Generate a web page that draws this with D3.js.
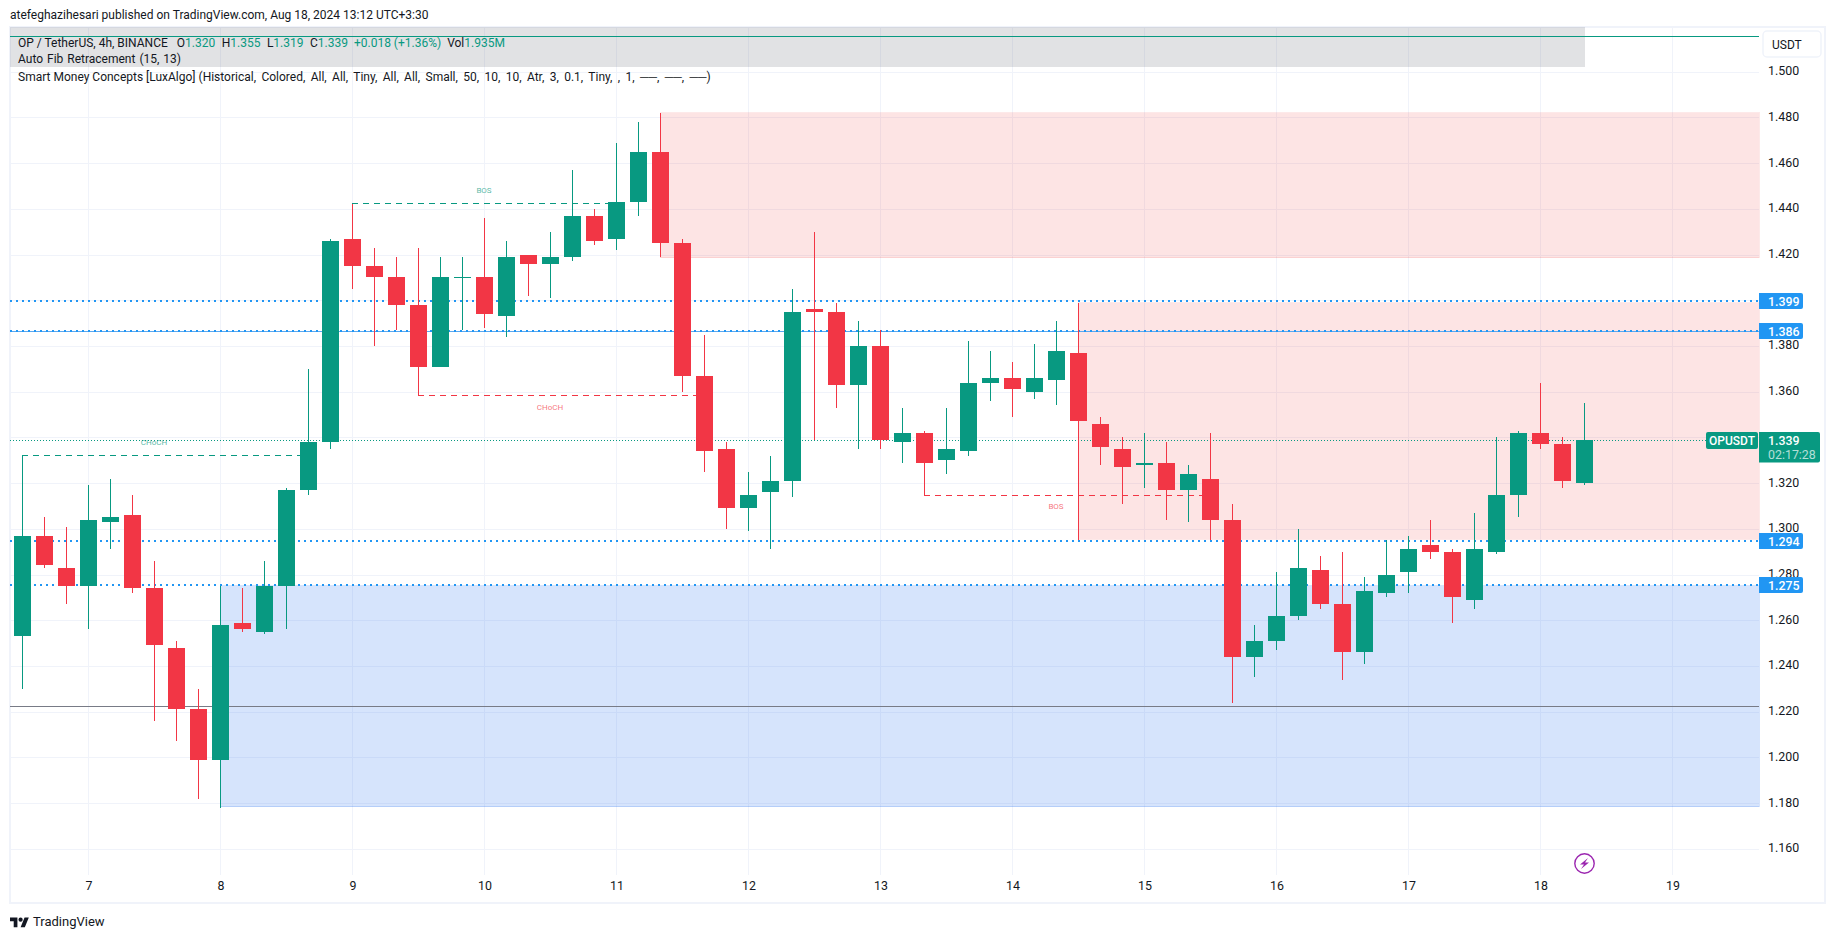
<!DOCTYPE html>
<html>
<head>
<meta charset="utf-8">
<script src="https://cdn.jsdelivr.net/npm/d3@7"></script>
<style>
  html, body { margin: 0; padding: 0; background: #fff; }
  svg { display: block; }
  text { font-family: Roboto, sans-serif; }
</style>
</head>
<body>
<script>
const width = 1835, height = 939;

// OHLC, one row per 4h bar, starting at day 6.5
const opens = [1.253,1.297,1.283,1.275,1.303,1.306,1.274,1.248,1.221,1.199,1.259,1.255,1.275,1.317,1.338,1.427,1.415,1.410,
  1.398,1.371,1.410,1.410,1.393,1.420,1.416,1.419,1.437,1.427,1.443,1.465,1.425,1.367,1.335,1.309,1.316,1.321,
  1.396,1.395,1.363,1.380,1.338,1.342,1.330,1.334,1.364,1.366,1.360,1.365,1.377,1.346,1.335,1.328,1.329,1.317,
  1.322,1.304,1.244,1.251,1.262,1.282,1.267,1.246,1.272,1.281,1.293,1.290,1.269,1.290,1.315,1.342,1.337,1.320];
const highs = [1.332,1.305,1.301,1.319,1.322,1.315,1.286,1.251,1.230,1.275,1.274,1.286,1.318,1.370,1.427,1.442,1.423,1.419,
  1.423,1.419,1.419,1.436,1.426,1.420,1.430,1.457,1.440,1.469,1.478,1.482,1.427,1.385,1.338,1.325,1.332,1.405,
  1.430,1.399,1.391,1.387,1.353,1.343,1.353,1.382,1.378,1.373,1.381,1.391,1.399,1.349,1.340,1.342,1.338,1.328,
  1.342,1.311,1.258,1.281,1.300,1.288,1.290,1.279,1.295,1.297,1.304,1.291,1.307,1.340,1.343,1.364,1.340,1.355];
const lows = [1.230,1.283,1.267,1.256,1.291,1.272,1.216,1.207,1.182,1.178,1.255,1.254,1.256,1.315,1.335,1.405,1.380,1.387,
  1.358,1.371,1.387,1.388,1.384,1.402,1.401,1.417,1.424,1.422,1.437,1.419,1.360,1.325,1.300,1.299,1.291,1.314,
  1.339,1.353,1.335,1.335,1.329,1.315,1.324,1.332,1.356,1.349,1.357,1.354,1.295,1.328,1.311,1.318,1.304,1.303,
  1.295,1.224,1.235,1.247,1.260,1.265,1.234,1.241,1.270,1.272,1.287,1.259,1.265,1.289,1.305,1.335,1.318,1.319];
const closes = [1.297,1.284,1.275,1.304,1.305,1.274,1.249,1.221,1.199,1.258,1.256,1.275,1.317,1.338,1.426,1.415,1.410,1.398,
  1.371,1.410,1.410,1.394,1.419,1.416,1.419,1.437,1.426,1.443,1.465,1.425,1.367,1.334,1.309,1.315,1.321,1.395,
  1.395,1.363,1.380,1.339,1.342,1.329,1.335,1.364,1.366,1.361,1.366,1.378,1.347,1.336,1.327,1.329,1.317,1.324,
  1.304,1.244,1.251,1.262,1.283,1.267,1.246,1.273,1.280,1.291,1.290,1.270,1.291,1.315,1.342,1.337,1.321,1.339];

const firstDay = 6.5, barsPerDay = 6;
const dayTicks = [7,8,9,10,11,12,13,14,15,16,17,18,19];
const priceTicks = [1.5,1.48,1.46,1.44,1.42,1.4,1.38,1.36,1.34,1.32,1.3,1.28,1.26,1.24,1.22,1.2,1.18,1.16];

// order blocks: first bar, top price, bottom price
const zoneBars = [29, 48, 9];
const zoneTops = [1.482, 1.3990, 1.2752];
const zoneBottoms = [1.4186, 1.2955, 1.1785];
const zoneKinds = ["supply", "supply", "demand"];

// structure breaks
const breakFrom = [0, 15, 18, 41];
const breakTo = [13, 27, 31, 54];
const breakPrices = [1.3322, 1.4424, 1.3585, 1.3150];
const breakNames = ["CHoCH", "BOS", "CHoCH", "BOS"];
const breakDirs = ["up", "up", "down", "down"];

// fib levels and the text of their labels
const fibLevels = [1.3997, 1.3866, 1.2947, 1.2756];
const fibNames = ["1.399", "1.386", "1.294", "1.275"];
const fibSolid = 1.3864;
const grayLevel = 1.2225;
const topLevel = 1.5157;
const lastPrice = 1.339;

const legendParts = [["O", "1.320"], ["H", "1.355"], ["L", "1.319"], ["C", "1.339"]];

const up = "#089981", down = "#f23645", fibBlue = "#2196f3", ink = "#131722", grid = "#f0f3fa";

const bars = opens.map((o, i) => ({i: i, o: o, h: highs[i], l: lows[i], c: closes[i]}));

const paneLeft = 10, paneRight = 1759, paneTop = 27, paneBottom = 875;

const x = d3.scaleLinear().domain([7, 19]).range([88, 1672]);
const y = d3.scaleLinear().domain([1.5, 1.16]).range([71.7, 848.8]);
const barX = i => Math.round(x(firstDay + i / barsPerDay));

const svg = d3.select("body").append("svg")
    .attr("width", width)
    .attr("height", height)
    .attr("viewBox", [0, 0, width, height]);

svg.append("text")
    .attr("x", 10).attr("y", 19)
    .attr("font-size", 12).attr("fill", ink)
    .text("atefeghazihesari published on TradingView.com, Aug 18, 2024 13:12 UTC+3:30");

// frame
svg.append("path")
    .attr("d", `M${paneLeft},903V27H1825V903H${paneLeft}Z`)
    .attr("fill", "none").attr("stroke", grid).attr("stroke-width", 2);

// grid
const gridG = svg.append("g").attr("shape-rendering", "crispEdges").attr("stroke", grid);
gridG.selectAll("line.h").data(priceTicks).join("line")
    .attr("class", "h")
    .attr("x1", paneLeft).attr("x2", paneRight)
    .attr("y1", d => Math.round(y(d)) + 0.5).attr("y2", d => Math.round(y(d)) + 0.5);
gridG.selectAll("line.v").data(dayTicks).join("line")
    .attr("class", "v")
    .attr("x1", d => x(d) + 0.5).attr("x2", d => x(d) + 0.5)
    .attr("y1", paneTop).attr("y2", paneBottom);

// legend backdrop
svg.append("rect")
    .attr("x", paneLeft).attr("y", paneTop)
    .attr("width", 1585 - paneLeft).attr("height", 40)
    .attr("fill", "#787b86").attr("fill-opacity", 0.22);

// order blocks
const zoneColor = d => zoneKinds[d] == "supply" ? "#f24b4b" : "#3278f0";
const zoneG = svg.append("g").attr("shape-rendering", "crispEdges");
zoneG.selectAll("rect").data(d3.range(zoneBars.length)).join("rect")
    .attr("x", d => barX(zoneBars[d]))
    .attr("width", d => paneRight - barX(zoneBars[d]))
    .attr("y", d => y(zoneTops[d]))
    .attr("height", d => y(zoneBottoms[d]) - y(zoneTops[d]))
    .attr("fill", zoneColor)
    .attr("fill-opacity", d => zoneKinds[d] == "supply" ? 0.15 : 0.2)
    .attr("stroke", zoneColor)
    .attr("stroke-opacity", d => zoneKinds[d] == "supply" ? 0.12 : 0.2);

// horizontal levels
function level(price, color, dash, sw) {
  const yy = Math.round(y(price));
  svg.append("line")
      .attr("x1", paneLeft).attr("x2", paneRight)
      .attr("y1", yy + (sw == 2 ? 0 : 0.5)).attr("y2", yy + (sw == 2 ? 0 : 0.5))
      .attr("stroke", color).attr("stroke-width", sw)
      .attr("stroke-dasharray", dash)
      .attr("shape-rendering", "crispEdges");
}
level(topLevel, up, null, 1);
level(grayLevel, "#787b86", null, 1);
level(fibSolid, "#5ba8f0", null, 1);
fibLevels.forEach(d => level(d, fibBlue, "2,4", 2));
level(lastPrice, up, "1,2", 1);

// structure breaks
const breakColor = d => breakDirs[d] == "up" ? up : down;
const breakG = svg.append("g");
breakG.selectAll("line").data(d3.range(breakFrom.length)).join("line")
    .attr("x1", d => barX(breakFrom[d]))
    .attr("x2", d => barX(breakTo[d]))
    .attr("y1", d => Math.round(y(breakPrices[d])) + 0.5)
    .attr("y2", d => Math.round(y(breakPrices[d])) + 0.5)
    .attr("stroke", breakColor)
    .attr("stroke-dasharray", "6,5")
    .attr("shape-rendering", "crispEdges");
breakG.selectAll("text").data(d3.range(breakFrom.length)).join("text")
    .attr("x", d => barX(Math.floor((breakFrom[d] + breakTo[d]) / 2)))
    .attr("y", d => y(breakPrices[d]) + (breakDirs[d] == "up" ? -10 : 14.5))
    .attr("text-anchor", "middle")
    .attr("font-size", 8)
    .attr("fill", breakColor)
    .attr("fill-opacity", 0.7)
    .text(d => breakNames[d]);

// candles
const candle = svg.append("g")
    .attr("shape-rendering", "crispEdges")
  .selectAll("g")
  .data(bars)
  .join("g")
    .attr("fill", d => d.c >= d.o ? up : down);
candle.append("rect")
    .attr("x", d => barX(d.i))
    .attr("width", 1)
    .attr("y", d => Math.round(y(d.h)))
    .attr("height", d => Math.round(y(d.l)) - Math.round(y(d.h)));
candle.append("rect")
    .attr("x", d => barX(d.i) - 8)
    .attr("width", 17)
    .attr("y", d => Math.round(y(Math.max(d.o, d.c))))
    .attr("height", d => Math.max(1, Math.round(y(Math.min(d.o, d.c))) - Math.round(y(Math.max(d.o, d.c)))));

// axes
const yAxis = svg.append("g")
    .attr("transform", "translate(1768,-1)")
    .call(d3.axisRight(y).tickValues(priceTicks).tickFormat(d3.format(".3f")).tickSize(0).tickPadding(0));
yAxis.select(".domain").remove();
yAxis.selectAll("text").attr("font-size", 12.4).attr("fill", ink).attr("font-family", "Roboto, sans-serif");

const xAxis = svg.append("g")
    .attr("transform", "translate(0.5,881)")
    .call(d3.axisBottom(x).tickValues(dayTicks).tickFormat(d3.format("d")).tickSize(0).tickPadding(0));
xAxis.select(".domain").remove();
xAxis.selectAll("text").attr("font-size", 12.4).attr("fill", ink).attr("font-family", "Roboto, sans-serif");

// currency button
svg.append("rect")
    .attr("x", 1763).attr("y", 31).attr("width", 58).attr("height", 26).attr("rx", 4)
    .attr("fill", "#fff").attr("stroke", grid).attr("stroke-width", 1.5);
svg.append("text")
    .attr("x", 1772).attr("y", 49)
    .attr("font-size", 12).attr("fill", ink)
    .text("USDT");

// fib labels
const fibG = svg.selectAll("g.fib").data(fibLevels).join("g")
    .attr("class", "fib")
    .attr("transform", d => `translate(1759,${Math.round(y(d))})`);
fibG.append("path")
    .attr("d", "M0,-8H42a2,2 0 0 1 2,2V6a2,2 0 0 1 -2,2H0Z")
    .attr("fill", fibBlue);
fibG.append("text")
    .attr("x", 9).attr("y", 4.5)
    .attr("font-size", 12.4).attr("font-weight", 500).attr("fill", "#fff")
    .text((d, i) => fibNames[i]);

// last price labels
const py = Math.round(y(lastPrice));
svg.append("path")
    .attr("d", `M1759,${py - 8}H1818a2,2 0 0 1 2,2V${py + 20.5}a2,2 0 0 1 -2,2H1759Z`)
    .attr("fill", up);
svg.append("text")
    .attr("x", 1768).attr("y", py + 4.5)
    .attr("font-size", 12.4).attr("font-weight", 500).attr("fill", "#fff")
    .text(d3.format(".3f")(lastPrice));
svg.append("text")
    .attr("x", 1768).attr("y", py + 18.5)
    .attr("font-size", 12.4).attr("fill", "#fff").attr("fill-opacity", 0.7)
    .text("02:17:28");
svg.append("rect")
    .attr("x", 1706).attr("y", py - 8).attr("width", 52).attr("height", 17).attr("rx", 2)
    .attr("fill", up);
svg.append("text")
    .attr("x", 1732).attr("y", py + 4.5)
    .attr("text-anchor", "middle")
    .attr("font-size", 12).attr("font-weight", 500).attr("fill", "#fff")
    .text("OPUSDT");

// legend
const row1 = svg.append("text")
    .attr("x", 18).attr("y", 47)
    .attr("font-size", 12).attr("fill", ink)
    .text("OP / TetherUS, 4h, BINANCE");
legendParts.forEach((d, i) => {
  row1.append("tspan").attr("dx", i == 0 ? 9 : 6.5).text(d[0]);
  row1.append("tspan").attr("fill", up).text(d[1]);
});
row1.append("tspan").attr("dx", 6).attr("fill", up).text("+0.018 (+1.36%)");
row1.append("tspan").attr("dx", 6).text("Vol");
row1.append("tspan").attr("fill", up).text("1.935M");
svg.append("text")
    .attr("x", 18).attr("y", 63)
    .attr("font-size", 12).attr("word-spacing", 1).attr("fill", ink)
    .text("Auto Fib Retracement (15, 13)");
const row3 = svg.append("text")
    .attr("x", 18).attr("y", 81)
    .attr("font-size", 12).attr("fill", ink)
    .text("Smart Money Concepts [LuxAlgo] ");
row3.append("tspan")
    .attr("word-spacing", 2.4)
    .text("(Historical, Colored, All, All, Tiny, All, All, Small, 50, 10, 10, Atr, 3, 0.1, Tiny, , 1, ──, ──, ──)");

// replay icon
const bolt = svg.append("g").attr("transform", "translate(1584.5,863.5)");
bolt.append("circle").attr("r", 9.7).attr("fill", "#fff").attr("stroke", "#9c27b0").attr("stroke-width", 1.4);
bolt.append("path")
    .attr("d", "M3.5,-5.5L-4.5,1H-0.5L-3.5,5.5L4.5,-1H0.5Z")
    .attr("fill", "#9c27b0");

// footer logo
const logo = svg.append("g").attr("transform", "translate(10,915.5) scale(0.53)").attr("fill", ink);
logo.append("path").attr("d", "M14 22H7V11H0V4h14v18zM28 22h-8l7.5-18h8L28 22z");
logo.append("circle").attr("cx", 20).attr("cy", 8).attr("r", 4);
svg.append("text")
    .attr("x", 33).attr("y", 926)
    .attr("font-size", 13).attr("fill", ink)
    .text("TradingView");
</script>
</body>
</html>
